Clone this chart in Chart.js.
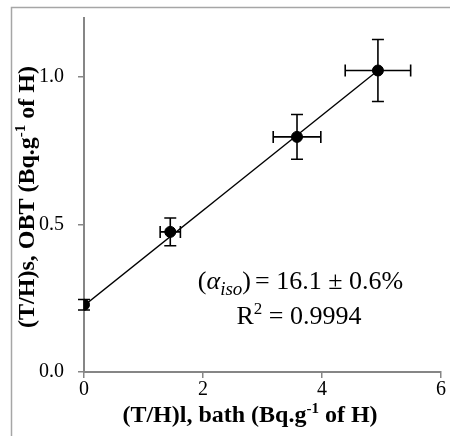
<!DOCTYPE html>
<html><head><meta charset="utf-8">
<script src="https://cdn.jsdelivr.net/npm/chart.js@4/dist/chart.umd.min.js"></script>
<style>html,body{margin:0;padding:0;background:#fff}canvas{display:block}</style>
</head><body>
<canvas id="c" width="450" height="436"></canvas>
<script>
// ---- data ----
const bathTH  = [0, 1.45, 3.58, 4.94];        // (T/H)l, bath
const obtTH   = [0.228, 0.475, 0.797, 1.022]; // (T/H)s, OBT
const bathErr = [0, 0.17, 0.40, 0.55];
const obtErr  = [0.018, 0.047, 0.076, 0.105];
const fitX    = [0, 4.94];
const fitY    = [0.225, 1.022];
const xTicks  = [0, 2, 4, 6];
const yTicks  = [0, 0.5, 1.0];
const xTitle  = ['(T/H)l, bath (Bq.g', '-1', ' of H)'];
const yTitle  = ['(T/H)s, OBT (Bq.g', '-1', ' of H)'];
const annot1a = ['(', 'α', 'iso', ')'];
const annot1b = '= 16.1 ± 0.6%';
const annot2  = ['R', '2', ' = 0.9994'];

const SERIF = '"Liberation Serif", "Times New Roman", serif';
const AXIS = '#868686';

function drawRich(ctx, segs, x, y, align) {
  let total = 0;
  segs.forEach(s => { ctx.font = s.font; s.w = ctx.measureText(s.t).width; total += s.w; });
  let cx = align === 'center' ? x - total / 2 : (align === 'right' ? x - total : x);
  ctx.textAlign = 'left';
  segs.forEach(s => { ctx.font = s.font; ctx.fillText(s.t, cx, y + (s.dy || 0)); cx += s.w; });
}

const decor = {
  id: 'decor',
  beforeDraw(chart) {
    const ctx = chart.ctx;
    ctx.save();
    ctx.strokeStyle = '#a6a6a6';
    ctx.lineWidth = 1.5;
    ctx.beginPath();
    ctx.moveTo(11.5, 436); ctx.lineTo(11.5, 7.5); ctx.lineTo(450, 7.5);
    ctx.stroke();
    ctx.restore();
  },
  afterDatasetsDraw(chart) {
    const ctx = chart.ctx, xs = chart.scales.x, ys = chart.scales.y;
    ctx.save();
    ctx.strokeStyle = '#000';
    ctx.lineWidth = 1.6;
    const cap = 6;
    bathTH.forEach((xv, i) => {
      const px = xs.getPixelForValue(xv), py = ys.getPixelForValue(obtTH[i]);
      if (obtErr[i] > 0) {
        const t = ys.getPixelForValue(obtTH[i] + obtErr[i]), b = ys.getPixelForValue(obtTH[i] - obtErr[i]);
        ctx.beginPath();
        ctx.moveTo(px, t); ctx.lineTo(px, b);
        ctx.moveTo(px - cap, t); ctx.lineTo(px + cap, t);
        ctx.moveTo(px - cap, b); ctx.lineTo(px + cap, b);
        ctx.stroke();
      }
      if (bathErr[i] > 0) {
        const l = xs.getPixelForValue(xv - bathErr[i]), r = xs.getPixelForValue(xv + bathErr[i]);
        ctx.beginPath();
        ctx.moveTo(l, py); ctx.lineTo(r, py);
        ctx.moveTo(l, py - cap); ctx.lineTo(l, py + cap);
        ctx.moveTo(r, py - cap); ctx.lineTo(r, py + cap);
        ctx.stroke();
      }
    });
    ctx.restore();
  },
  afterDraw(chart) {
    const ctx = chart.ctx;
    ctx.save();
    ctx.fillStyle = '#000';
    ctx.textBaseline = 'alphabetic';
    // x title
    drawRich(ctx, [
      {t: xTitle[0], font: 'bold 24px ' + SERIF},
      {t: xTitle[1], font: 'bold 15px ' + SERIF, dy: -9},
      {t: xTitle[2], font: 'bold 24px ' + SERIF}
    ], 250, 422, 'center');
    // y title
    ctx.save();
    ctx.translate(34, 197);
    ctx.rotate(-Math.PI / 2);
    drawRich(ctx, [
      {t: yTitle[0], font: 'bold 24px ' + SERIF},
      {t: yTitle[1], font: 'bold 15px ' + SERIF, dy: -9},
      {t: yTitle[2], font: 'bold 24px ' + SERIF}
    ], 0, 0, 'center');
    ctx.restore();
    // annotation line 1
    drawRich(ctx, [
      {t: annot1a[0], font: '26px ' + SERIF},
      {t: annot1a[1], font: 'italic 26px ' + SERIF},
      {t: annot1a[2], font: 'italic 19px ' + SERIF, dy: 6},
      {t: annot1a[3], font: '26px ' + SERIF}
    ], 251, 289, 'right');
    drawRich(ctx, [{t: annot1b, font: '26px ' + SERIF}], 255, 289, 'left');
    // annotation line 2
    drawRich(ctx, [
      {t: annot2[0], font: '26px ' + SERIF},
      {t: annot2[1], font: '17px ' + SERIF, dy: -10},
      {t: annot2[2], font: '26px ' + SERIF}
    ], 299, 324, 'center');
    ctx.restore();
  }
};

new Chart(document.getElementById('c'), {
  data: {
    datasets: [
      {
        type: 'line',
        data: fitX.map((x, i) => ({x, y: fitY[i]})),
        borderColor: '#000', borderWidth: 1.3, pointRadius: 0, fill: false, tension: 0
      },
      {
        type: 'scatter',
        data: bathTH.map((x, i) => ({x, y: obtTH[i]})),
        backgroundColor: '#000', borderColor: '#000', pointRadius: 5.5, pointHoverRadius: 5.5
      }
    ]
  },
  options: {
    responsive: false,
    animation: false,
    events: [],
    layout: {padding: {top: 18, right: 9, left: 0, bottom: 0}},
    plugins: {legend: {display: false}, tooltip: {enabled: false}},
    scales: {
      x: {
        type: 'linear', min: 0, max: 6,
        afterBuildTicks(s) { s.ticks = xTicks.map(v => ({value: v})); },
        afterFit(s) { s.height = 64; s.paddingLeft = 0; s.paddingRight = 0; },
        ticks: {color: '#000', font: {family: SERIF, size: 20}, padding: 0, callback: v => String(v)},
        grid: {drawOnChartArea: false, drawTicks: true, tickLength: 6, color: AXIS, lineWidth: 1.5},
        border: {color: AXIS, width: 2},
        title: {display: false}
      },
      y: {
        type: 'linear', min: 0, max: 1.2,
        afterBuildTicks(s) { s.ticks = yTicks.map(v => ({value: v})); },
        afterFit(s) { s.width = 84; s.paddingTop = 0; s.paddingBottom = 0; },
        ticks: {color: '#000', font: {family: SERIF, size: 20}, padding: 14, callback: v => Number(v).toFixed(1)},
        grid: {drawOnChartArea: false, drawTicks: true, tickLength: 6, color: AXIS, lineWidth: 1.5},
        border: {color: AXIS, width: 2},
        title: {display: false}
      }
    }
  },
  plugins: [decor]
});
</script>
</body></html>
